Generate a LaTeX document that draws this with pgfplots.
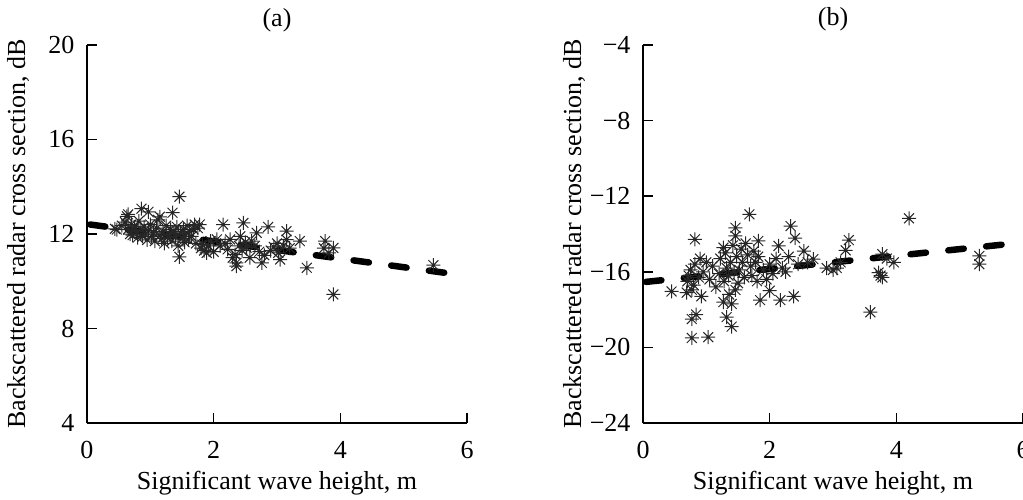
\documentclass[border=0pt]{standalone}
\usepackage{fontspec}
\setmainfont{Liberation Serif}
\usepackage{pgfplots}
\pgfplotsset{compat=1.18}
\pgfdeclareplotmark{ast8}{%
 \pgfpathmoveto{\pgfqpoint{-\pgfplotmarksize}{0pt}}\pgfpathlineto{\pgfqpoint{\pgfplotmarksize}{0pt}}%
 \pgfpathmoveto{\pgfqpoint{0pt}{-\pgfplotmarksize}}\pgfpathlineto{\pgfqpoint{0pt}{\pgfplotmarksize}}%
 \pgfpathmoveto{\pgfqpoint{-0.7071\pgfplotmarksize}{-0.7071\pgfplotmarksize}}\pgfpathlineto{\pgfqpoint{0.7071\pgfplotmarksize}{0.7071\pgfplotmarksize}}%
 \pgfpathmoveto{\pgfqpoint{-0.7071\pgfplotmarksize}{0.7071\pgfplotmarksize}}\pgfpathlineto{\pgfqpoint{0.7071\pgfplotmarksize}{-0.7071\pgfplotmarksize}}%
 \pgfusepathqstroke
 \pgfpathcircle{\pgfpointorigin}{1.2pt}\pgfusepathqfill}
\pgfplotsset{
  panel/.style={
    scale only axis, width=380pt, height=378pt,
    anchor=south west,
    axis lines=left, axis line style={-, line width=1.5pt},
    font=\fontsize{26}{31}\selectfont,
    tick align=inside, major tick length=10pt,
    tick style={line width=1.5pt, black},
    xmin=0, xmax=6, xtick={0,2,4,6}, xticklabels={0,2,4,6},
    xticklabel style={anchor=base, yshift=-35pt},
    yticklabel style={anchor=east, xshift=-9pt},
    every axis x label/.style={at={(axis description cs:0.5,0)}, anchor=base, yshift=-66pt},
    every axis y label/.style={at={(axis description cs:0,0.5)}, rotate=90, anchor=center, yshift=69pt},
    every axis title/.style={at={(axis description cs:0.5,1)}, anchor=base, yshift=19pt},
    xlabel={Significant wave height, m},
    ylabel={Backscattered radar cross section, dB},
    clip=false,
  },
  pts/.style={only marks, mark=ast8, mark size=7pt, black!85, mark options={line width=1pt}},
  fit/.style={black, line width=6.5pt, line cap=round, dash pattern=on 15.5pt off 22.5pt, dash phase=35pt},
}
\begin{document}
\begin{tikzpicture}
\begin{axis}[panel, at={(87pt,76pt)}, ymin=4, ymax=20, ytick={4,8,12,16,20}, yticklabels={4,8,12,16,20}, title={(a)}]
\addplot[pts] coordinates {
(0.44,12.22) (0.47,12.19) (0.55,12.35) (0.6,12.5) (0.63,12.75) (0.65,12.2) (0.65,12.83) (0.68,12.0) (0.7,12.4) (0.72,11.95)
(0.75,12.3) (0.78,12.1) (0.8,11.85) (0.82,12.55) (0.86,13.07) (0.85,12.2) (0.88,11.9) (0.9,12.3) (0.92,12.0) (0.97,12.94)
(0.95,11.75) (0.97,12.15) (1.0,12.4) (1.02,11.9) (1.05,12.05) (1.07,11.7) (1.1,12.25) (1.12,12.6) (1.15,12.73) (1.15,11.95)
(1.18,11.8) (1.2,12.1) (1.22,11.6) (1.25,12.35) (1.27,11.85) (1.3,12.0) (1.32,12.2) (1.34,11.7) (1.35,12.9) (1.37,12.1)
(1.4,11.9) (1.42,12.3) (1.44,11.5) (1.46,13.58) (1.46,11.03) (1.48,12.05) (1.5,11.8) (1.52,12.2) (1.54,11.65) (1.55,12.0)
(1.58,12.35) (1.6,11.75) (1.62,12.1) (1.65,11.9) (1.68,12.2) (1.7,12.4) (1.72,11.6) (1.75,12.25) (1.78,12.4) (1.8,11.4)
(1.82,11.55) (1.85,11.3) (1.89,11.2) (1.92,11.5) (1.95,11.7) (2.0,11.25) (2.05,11.77) (2.1,11.5) (2.15,12.4) (2.18,11.6)
(2.22,11.35) (2.26,11.77) (2.3,11.0) (2.34,11.13) (2.36,10.64) (2.36,10.78) (2.4,11.5) (2.42,11.9) (2.45,11.3) (2.47,12.47)
(2.5,11.65) (2.52,11.42) (2.57,11.0) (2.6,11.7) (2.65,11.5) (2.68,12.05) (2.72,11.25) (2.76,10.78) (2.8,11.1) (2.86,12.3)
(2.9,11.3) (2.95,11.45) (3.0,11.6) (3.02,11.2) (3.05,10.92) (3.1,11.5) (3.15,12.12) (3.15,11.76) (3.2,11.4) (3.36,11.7)
(3.47,10.57) (3.74,11.4) (3.76,11.7) (3.82,11.2) (3.89,11.41) (3.89,9.44) (5.47,10.68)
};
\addplot[fit] coordinates {(0,12.42) (5.78,10.31)};
\end{axis}
\begin{axis}[panel, at={(643pt,76pt)}, ymin=-24, ymax=-4, ytick={-24,-20,-16,-12,-8,-4}, yticklabels={−24,−20,−16,−12,−8,−4}, title={(b)}]
\addplot[pts] coordinates {
(0.45,-17.04) (0.69,-17.1) (0.7,-16.5) (0.72,-16.2) (0.75,-15.9) (0.77,-16.95) (0.77,-19.5) (0.77,-18.5) (0.8,-16.7) (0.82,-15.6)
(0.84,-18.26) (0.82,-14.28) (0.88,-16.3) (0.9,-15.3) (0.92,-17.3) (0.95,-16.0) (1.0,-15.5) (1.03,-19.46) (1.05,-16.4) (1.1,-15.7)
(1.15,-16.8) (1.2,-16.1) (1.22,-15.3) (1.27,-14.72) (1.27,-17.6) (1.28,-16.5) (1.3,-15.0) (1.32,-15.8) (1.32,-18.4) (1.35,-16.2)
(1.36,-17.2) (1.38,-15.5) (1.4,-18.9) (1.4,-17.7) (1.42,-14.6) (1.44,-16.0) (1.46,-13.67) (1.46,-14.1) (1.46,-16.96) (1.48,-15.2)
(1.5,-16.6) (1.52,-15.9) (1.55,-14.8) (1.57,-15.5) (1.6,-16.3) (1.62,-14.5) (1.65,-15.1) (1.68,-12.96) (1.7,-15.7) (1.72,-16.2)
(1.75,-14.9) (1.78,-15.5) (1.8,-16.5) (1.82,-15.2) (1.82,-14.37) (1.85,-17.5) (1.9,-15.9) (1.95,-16.4) (2.0,-17.0) (2.0,-15.6)
(2.05,-16.1) (2.1,-15.3) (2.14,-14.63) (2.17,-17.5) (2.2,-15.8) (2.25,-16.0) (2.3,-15.2) (2.33,-13.58) (2.38,-17.3) (2.4,-14.22)
(2.45,-15.6) (2.54,-14.9) (2.6,-15.5) (2.69,-15.33) (2.9,-15.8) (3.0,-15.9) (3.06,-15.8) (3.12,-15.5) (3.2,-14.86) (3.25,-14.32)
(3.59,-18.14) (3.72,-16.04) (3.75,-16.2) (3.78,-16.3) (3.78,-15.07) (3.85,-15.3) (3.96,-15.5) (4.2,-13.17) (5.31,-15.16) (5.31,-15.6)
};
\addplot[fit] coordinates {(0,-16.55) (6,-14.45)};
\end{axis}
\pgfresetboundingbox
\path (0,0) rectangle (1023pt,499pt);
\end{tikzpicture}
\end{document}
